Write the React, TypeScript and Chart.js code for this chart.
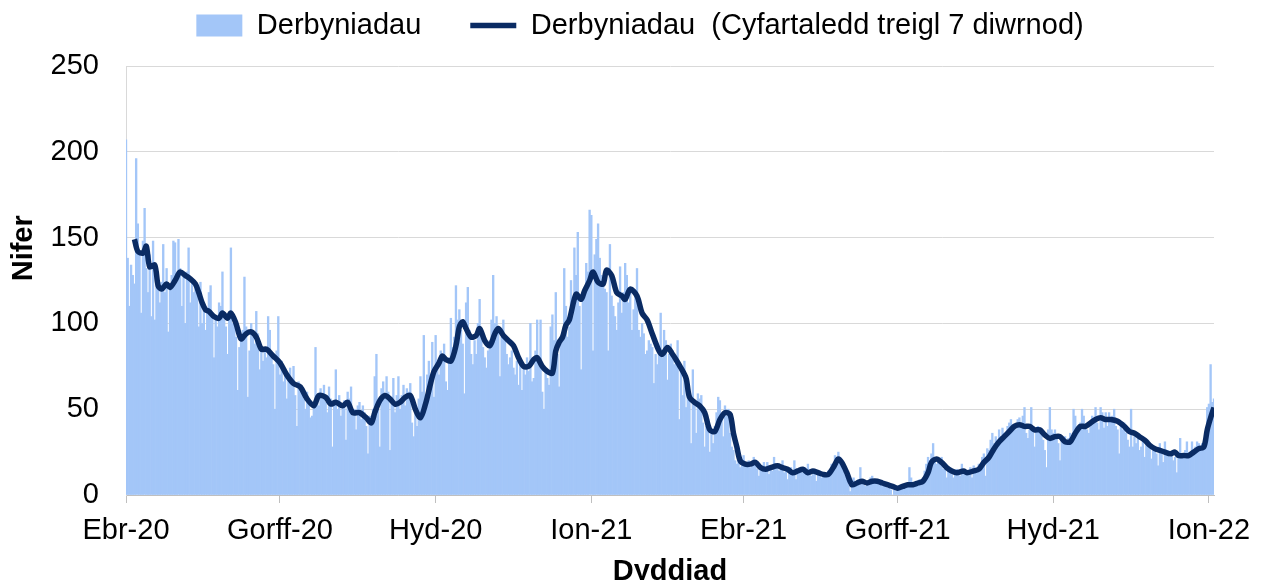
import React, { useEffect, useRef } from 'react';
import { Chart, registerables } from 'chart.js';

Chart.register(...registerables);

// Day 0 = 1 April 2020 (Ebr-20); one bar per day up to 4 January 2022
const startDate = '2020-04-01';

const seriesNames = ['Derbyniadau', 'Derbyniadau  (Cyfartaledd treigl 7 diwrnod)'];

const quarterTickDays = [0, 91, 183, 275, 365, 456, 548, 640];
const quarterTickLabels = ['Ebr-20', 'Gorff-20', 'Hyd-20', 'Ion-21', 'Ebr-21', 'Gorff-21', 'Hyd-21', 'Ion-22'];

const yTicks = [0, 50, 100, 150, 200, 250];

// Daily admissions, one row per week starting at day 0
const dailyAdmissions = [
  207, 138, 110, 134, 128, 123, 196,
  158, 142, 106, 148, 167, 132, 118,
  140, 104, 148, 102, 128, 120, 112,
  124, 146, 118, 132, 95, 120, 128,
  148, 147, 124, 149, 132, 110, 128,
  100, 130, 144, 112, 126, 118, 122,
  120, 98, 124, 100, 110, 96, 108,
  118, 122, 106, 80, 104, 98, 112,
  110, 130, 102, 98, 82, 106, 144,
  100, 102, 92, 61, 86, 92, 96,
  127, 98, 57, 84, 100, 92, 88,
  107, 94, 73, 86, 78, 84, 80,
  104, 96, 82, 76, 50, 84, 104,
  70, 78, 66, 72, 56, 68, 74,
  64, 75, 58, 40, 66, 60, 62,
  56, 50, 60, 54, 45, 46, 52,
  86, 58, 52, 62, 56, 64, 54,
  48, 63, 56, 28, 54, 73, 50,
  58, 46, 52, 55, 32, 60, 56,
  63, 46, 50, 38, 52, 54, 44,
  52, 48, 40, 24, 46, 44, 50,
  69, 82, 50, 28, 62, 66, 58,
  69, 60, 26, 54, 68, 48, 58,
  69, 50, 58, 64, 52, 62, 60,
  65, 42, 34, 48, 40, 56, 69,
  60, 93, 58, 70, 78, 66, 89,
  57, 93, 76, 70, 84, 82, 88,
  66, 61, 80, 103, 86, 92, 122,
  102, 108, 96, 88, 59, 112, 121,
  96, 82, 76, 90, 82, 100, 114,
  92, 86, 80, 74, 84, 90, 102,
  128, 100, 104, 96, 69, 92, 102,
  90, 82, 76, 80, 84, 74, 70,
  78, 64, 76, 61, 74, 70, 80,
  72, 100, 66, 68, 84, 102, 76,
  102, 60, 50, 72, 68, 64, 98,
  105, 90, 118, 82, 63, 88, 92,
  132, 110, 92, 98, 125, 104, 144,
  128, 153, 110, 73, 115, 120, 135,
  130, 166, 163, 84, 140, 149, 158,
  138, 128, 122, 120, 118, 84, 146,
  116, 110, 104, 96, 112, 133, 106,
  118, 135, 128, 112, 120, 96, 108,
  118, 132, 96, 92, 100, 94, 82,
  84, 90, 88, 86, 65, 82, 76,
  84, 106, 80, 96, 90, 67, 82,
  88, 84, 76, 78, 90, 44, 74,
  58, 78, 51, 60, 59, 30, 73,
  52, 36, 59, 56, 58, 42, 28,
  40, 44, 25, 38, 30, 40, 48,
  57, 55, 44, 34, 52, 46, 50,
  36, 28, 26, 20, 18, 22, 16,
  20, 23, 18, 19, 20, 16, 18,
  22, 17, 15, 11, 16, 14, 19,
  14, 19, 12, 16, 14, 22, 18,
  17, 14, 16, 20, 13, 15, 9,
  13, 16, 14, 20, 9, 13, 15,
  14, 13, 16, 13, 18, 15, 11,
  12, 15, 8, 13, 14, 10, 13,
  12, 11, 14, 12, 18, 16, 23,
  19, 25, 22, 20, 16, 12, 10,
  6, 2, 8, 10, 5, 7, 9,
  16, 8, 6, 5, 8, 7, 10,
  11, 8, 7, 8, 6, 7, 5,
  5, 6, 4, 4, 3, 0, 3,
  2, 4, 5, 4, 4, 6, 5,
  6, 16, 10, 6, 5, 8, 7,
  9, 8, 10, 14, 18, 22, 20,
  24, 30, 20, 18, 21, 20, 22,
  15, 18, 10, 14, 16, 12, 10,
  14, 15, 12, 11, 18, 12, 13,
  14, 12, 16, 10, 17, 15, 13,
  18, 14, 22, 24, 11, 27, 26,
  32, 36, 30, 34, 28, 38, 34,
  39, 36, 35, 40, 42, 44, 38,
  40, 38, 44, 45, 42, 46, 51,
  36, 33, 38, 51, 40, 28, 38,
  40, 36, 38, 32, 26, 16, 38,
  51, 38, 36, 38, 34, 30, 20,
  32, 30, 34, 31, 33, 36, 30,
  50, 46, 38, 40, 42, 50, 46,
  40, 38, 36, 41, 46, 42, 51,
  42, 38, 51, 48, 39, 48, 40,
  48, 44, 46, 50, 40, 38, 24,
  40, 38, 42, 36, 32, 28, 50,
  28, 34, 30, 36, 26, 28, 34,
  22, 30, 32, 28, 21, 26, 28,
  24, 17, 30, 26, 19, 31, 24,
  26, 22, 23, 20, 22, 13, 24,
  33, 22, 24, 26, 31, 22, 24,
  31, 24, 28, 31, 30, 26, 30,
  28, 36, 51, 53, 76, 54, 56,
];

// 7-day rolling average (day index / value)
const rollingAvgDays = [
  5, 7, 10, 12, 14, 17, 19, 21, 24, 26,
  29, 32, 35, 38, 41, 43, 45, 47, 49, 52,
  55, 57, 60, 62, 65, 68, 71, 74, 77, 80,
  83, 87, 91, 95, 99, 103, 107, 111, 114, 118,
  121, 124, 128, 131, 134, 138, 142, 145, 147, 150,
  153, 156, 159, 162, 165, 168, 171, 174, 177, 180,
  182, 185, 187, 189, 192, 195, 197, 199, 201, 204,
  207, 209, 212, 215, 218, 220, 223, 226, 229, 232,
  235, 238, 241, 243, 246, 249, 252, 254, 256, 258,
  260, 262, 266, 269, 271, 274, 276, 279, 282, 284,
  287, 290, 293, 295, 298, 302, 305, 308, 311, 315,
  317, 320, 323, 325, 328, 331, 333, 336, 339, 342,
  345, 348, 351, 354, 357, 359, 361, 363, 366, 369,
  372, 375, 378, 381, 385, 388, 391, 394, 397, 400,
  403, 406, 409, 412, 415, 418, 421, 423, 426, 429,
  432, 435, 438, 441, 444, 447, 450, 453, 456, 459,
  462, 465, 468, 471, 474, 476, 479, 482, 485, 488,
  491, 495, 497, 501, 504, 507, 510, 513, 516, 519,
  522, 525, 528, 531, 534, 537, 540, 543, 546, 549,
  552, 555, 558, 561, 564, 567, 570, 573, 576, 579,
  582, 586, 590, 593, 596, 599, 602, 605, 608, 611,
  614, 617, 620, 622, 625, 628, 631, 634, 637, 639,
  641, 643,
];
const rollingAvgValues = [
  149, 142, 141, 145, 133, 134, 122, 120, 123, 121,
  125, 130, 128, 126, 123, 118, 112, 108, 107, 104,
  103, 106, 103, 106, 100, 91, 94, 95, 92, 85,
  85, 81, 77, 70, 65, 63, 56, 52, 58, 57,
  53, 54, 52, 54, 48, 48, 45, 42, 48, 55,
  58, 56, 53, 54, 57, 58, 50, 45, 53, 65,
  72, 77, 81, 79, 78, 87, 98, 101, 97, 92,
  93, 97, 90, 87, 94, 97, 93, 90, 87, 80,
  75, 75, 79, 80, 75, 72, 71, 84, 89, 92,
  99, 102, 117, 114, 119, 125, 130, 124, 123, 131,
  128, 118, 116, 114, 120, 116, 106, 102, 94, 84,
  82, 86, 82, 79, 74, 68, 57, 54, 52, 48,
  38, 37, 44, 48, 47, 36, 28, 20, 18, 18,
  19, 16, 15, 16, 17, 16, 15, 13, 14, 15,
  13, 14, 13, 12, 12, 16, 21, 19, 13, 6,
  7, 8, 7, 8, 8, 7, 6, 5, 4, 5,
  6, 6, 7, 8, 13, 19, 21, 19, 16, 14,
  13, 14, 13, 14, 15, 19, 22, 27, 31, 34,
  37, 40, 41, 40, 40, 38, 38, 35, 33, 34,
  34, 31, 31, 36, 40, 40, 42, 44, 45, 44,
  44, 43, 40, 37, 36, 34, 32, 29, 27, 26,
  25, 24, 25, 23, 23, 23, 25, 27, 28, 38,
  45, 51,
];

const BAR_COLOR = '#a3c6f8';
const LINE_COLOR = '#0a2b63';
const FONT_FAMILY = "'Liberation Sans', Arial, Helvetica, sans-serif";

export default function App() {
  const canvasRef = useRef<HTMLCanvasElement | null>(null);

  useEffect(() => {
    const canvas = canvasRef.current;
    if (!canvas) return;

    // Adds vertical space below the legend so the plot starts where the reference does
    const legendSpacer = {
      id: 'legendSpacer',
      beforeLayout(chart: any) {
        const lg = chart.legend;
        if (lg && !lg.__spaced) {
          const orig = lg.fit;
          lg.fit = function () {
            orig.call(this);
            this.height += 16;
          };
          lg.__spaced = true;
        }
      },
    };

    const lastDay = dailyAdmissions.length - 1;

    const chart = new Chart(canvas, {
      type: 'bar',
      data: {
        datasets: [
          {
            type: 'bar',
            label: seriesNames[0],
            data: dailyAdmissions.map((v, i) => ({ x: i, y: v })),
            backgroundColor: BAR_COLOR,
            borderWidth: 0,
            barPercentage: 1,
            categoryPercentage: 1,
            pointStyle: 'rect',
            order: 2,
          } as any,
          {
            type: 'line',
            label: seriesNames[1],
            data: rollingAvgDays.map((d, i) => ({ x: d, y: rollingAvgValues[i] })),
            borderColor: LINE_COLOR,
            backgroundColor: LINE_COLOR,
            borderWidth: 5.5,
            pointRadius: 0,
            tension: 0.3,
            fill: false,
            borderJoinStyle: 'round',
            pointStyle: 'line',
            order: 1,
          } as any,
        ],
      },
      options: {
        animation: false,
        responsive: false,
        devicePixelRatio: 1,
        events: [],
        layout: { padding: { left: 18, top: -38, right: 0, bottom: 0 } },
        plugins: {
          legend: {
            display: true,
            position: 'top',
            align: 'center',
            labels: {
              usePointStyle: true,
              pointStyleWidth: 46,
              boxHeight: 22,
              padding: 49,
              color: '#000',
              font: { family: FONT_FAMILY, size: 29 },
              sort: (a: any, b: any) => a.datasetIndex - b.datasetIndex,
            },
          },
          tooltip: { enabled: false },
        },
        scales: {
          x: {
            type: 'linear',
            min: 0,
            max: lastDay,
            offset: false,
            afterBuildTicks: (scale: any) => {
              scale.ticks = quarterTickDays.map((v) => ({ value: v }));
            },
            afterFit: (scale: any) => {
              scale.height = 85;
            },
            ticks: {
              autoSkip: false,
              maxRotation: 0,
              minRotation: 0,
              padding: 11,
              color: '#000',
              font: { family: FONT_FAMILY, size: 29 },
              callback: (value: any) => {
                const i = quarterTickDays.indexOf(Number(value));
                return i >= 0 ? quarterTickLabels[i] : '';
              },
            },
            grid: {
              drawOnChartArea: false,
              drawTicks: true,
              tickLength: 8,
              color: '#bfbfbf',
              offset: false,
            },
            border: { display: true, color: '#bfbfbf', width: 1 },
            title: {
              display: true,
              text: 'Dyddiad',
              color: '#000',
              font: { family: FONT_FAMILY, size: 29, weight: 'bold' },
              padding: { top: 0, bottom: -9 },
            },
          } as any,
          y: {
            type: 'linear',
            min: yTicks[0],
            max: yTicks[yTicks.length - 1],
            afterFit: (scale: any) => {
              scale.width = 108;
            },
            ticks: {
              stepSize: 50,
              padding: 27,
              color: '#000',
              font: { family: FONT_FAMILY, size: 29 },
            },
            grid: { color: '#d9d9d9', lineWidth: 1, drawTicks: false },
            border: { display: true, color: '#d9d9d9' },
            title: {
              display: true,
              text: '        Nifer',
              color: '#000',
              font: { family: FONT_FAMILY, size: 29, weight: 'bold' },
              padding: { top: -11, bottom: 0 },
            },
          } as any,
          yRightSpace: {
            type: 'linear',
            position: 'right',
            display: true,
            afterFit: (scale: any) => {
              scale.width = 48;
            },
            ticks: { display: false },
            grid: { display: false },
            border: { display: false },
          } as any,
        },
      } as any,
      plugins: [legendSpacer],
    });

    return () => {
      chart.destroy();
    };
  }, []);

  return (
    <div style={{ position: 'fixed', left: 0, top: 0, width: 1262, height: 580, background: '#fff' }}>
      <canvas ref={canvasRef} width={1262} height={580} data-start={startDate} />
    </div>
  );
}
